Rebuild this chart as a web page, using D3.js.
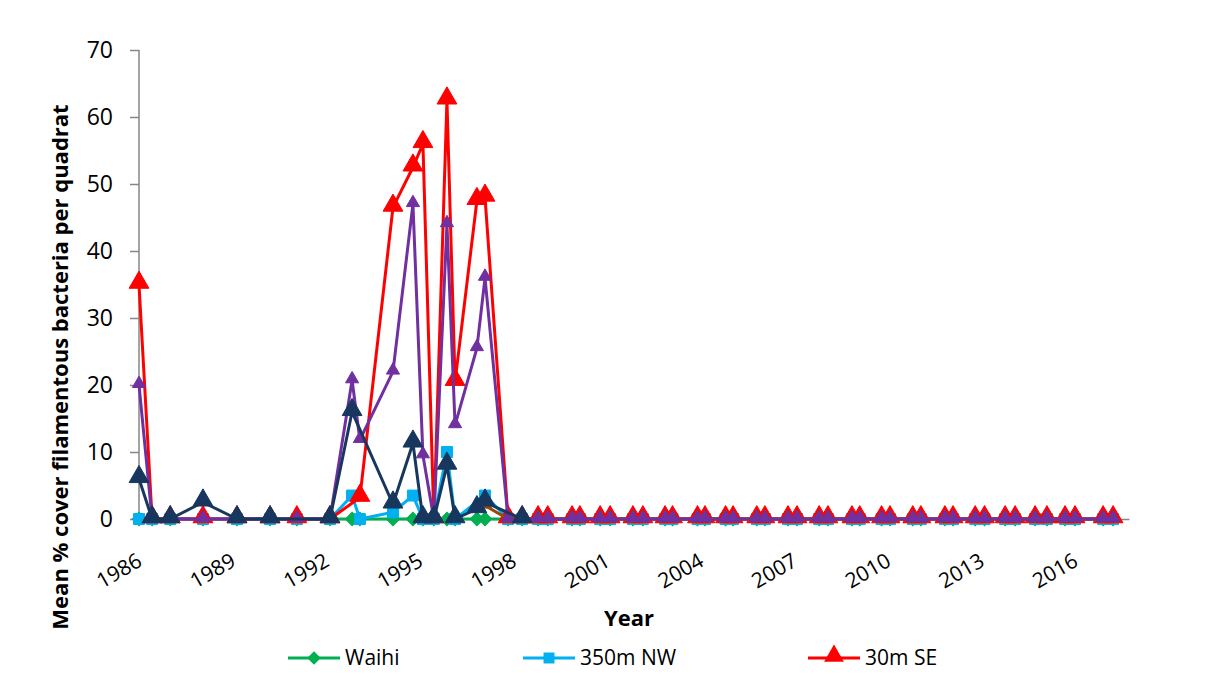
<!DOCTYPE html>
<html>
<head>
<meta charset="utf-8">
<script src="https://cdn.jsdelivr.net/npm/d3@7"></script>
<style>
    html, body { margin: 0; padding: 0; background: #ffffff; }
    svg { display: block; font-family: "Open Sans", "Noto Sans", sans-serif; }
</style>
</head>
<body>
<div id="chart"></div>
<script>
// Sampling dates as decimal years
var sampleDates = [
    1986.00, 1986.42, 1987.00, 1988.05, 1989.14, 1990.20, 1991.06, 1992.12,
    1992.83, 1993.08, 1994.14, 1994.78, 1995.10, 1995.45, 1995.87, 1996.13,
    1996.83, 1997.09, 1997.83, 1998.28,
    1998.79, 1999.10, 1999.88, 2000.13, 2000.78, 2001.10, 2001.83, 2002.15,
    2002.86, 2003.10, 2003.90, 2004.14, 2004.80, 2005.04, 2005.80, 2006.06,
    2006.80, 2007.09, 2007.80, 2008.08, 2008.85, 2009.10, 2009.80, 2010.07,
    2010.80, 2011.06, 2011.83, 2012.09, 2012.80, 2013.10, 2013.76, 2014.08,
    2014.72, 2015.10, 2015.68, 2016.00, 2016.90, 2017.22
];

var waihi = [
    0, 0, 0, 0, 0, 0, 0, 0,
    0, 0, 0, 0, 0, 0, 0, 0,
    0, 0, 0, 0,
    0, 0, 0, 0, 0, 0, 0, 0,
    0, 0, 0, 0, 0, 0, 0, 0,
    0, 0, 0, 0, 0, 0, 0, 0,
    0, 0, 0, 0, 0, 0, 0, 0,
    0, 0, 0, 0, 0, 0
];

var nw350 = [
    0, 0, 0, 0, 0, 0, 0, 0,
    3.5, 0, 1.0, 3.5, 0, 0, 10, 0,
    null, 3.5, 0, 0,
    0, 0, 0, 0, 0, 0, 0, 0,
    0, 0, 0, 0, 0, 0, 0, 0,
    0, 0, 0, 0, 0, 0, 0, 0,
    0, 0, 0, 0, 0, 0, 0, 0,
    0, 0, 0, 0, 0, 0
];

var se30 = [
    35, 0, 0, 0, 0, 0, 0, 0,
    null, 3.2, 46.5, 52.5, 56, 0, 62.5, 20.5,
    47.5, 48, 0, 0,
    0, 0, 0, 0, 0, 0, 0, 0,
    0, 0, 0, 0, 0, 0, 0, 0,
    0, 0, 0, 0, 0, 0, 0, 0,
    0, 0, 0, 0, 0, 0, 0, 0,
    0, 0, 0, 0, 0, 0
];

var purpleSite = [
    20, 0, 0, 0, 0, 0, 0, 0,
    20.7, 11.8, 22, 47, 9.5, 0, 44, 14,
    25.5, 36, 0, 0,
    0, 0, 0, 0, 0, 0, 0, 0,
    0, 0, 0, 0, 0, 0, 0, 0,
    0, 0, 0, 0, 0, 0, 0, 0,
    0, 0, 0, 0, 0, 0, 0, 0,
    0, 0, 0, 0, 0, 0
];

var brownSite = [
    null, null, null, null, null, null, null, null,
    null, null, null, null, null, null, null, null,
    1.5, 2, 0, 0,
    0, 0, 0, 0, 0, 0, 0, 0,
    0, 0, 0, 0, 0, 0, 0, 0,
    0, 0, 0, 0, 0, 0, 0, 0,
    0, 0, 0, 0, 0, 0, 0, 0,
    0, 0, 0, 0, 0, 0
];

var navySite = [
    6, 0, 0, 2.5, 0, 0, null, 0,
    16, null, 2.2, 11.3, 0, 0, 8, 0,
    1.5, 2.5, null, 0,
    null, null, null, null, null, null, null, null,
    null, null, null, null, null, null, null, null,
    null, null, null, null, null, null, null, null,
    null, null, null, null, null, null, null, null,
    null, null, null, null, null, null
];

var yTicks = [0, 10, 20, 30, 40, 50, 60, 70];
var xTickYears = [1986, 1989, 1992, 1995, 1998, 2001, 2004, 2007, 2010, 2013, 2016];
var legendNames = ["Waihi", "350m NW", "30m SE"];

(function(){
    "use strict";

    //==========================================================================================
    // Chart setup
    //==========================================================================================
    var width = 1206;
    var height = 683;
    var plot = { left: 139, right: 1129, top: 50, bottom: 519 };
    var axisColor = "#868686";
    var fontFamily = "'Open Sans', 'Noto Sans', sans-serif";

    var series = [
        { values: waihi,      color: "#00B050", shape: "diamond",  size: 90 },
        { values: nw350,      color: "#00B0F0", shape: "square",   size: 120 },
        { values: se30,       color: "#FF0000", shape: "triangle", size: 170 },
        { values: brownSite,  color: "#984807", shape: "triangle", size: 75 },
        { values: purpleSite, color: "#7030A0", shape: "triangle", size: 75 },
        { values: navySite,   color: "#17375E", shape: "triangle", size: 170 }
    ];

    var svg = d3.select("#chart")
        .append("svg")
        .attr("width", width)
        .attr("height", height);

    var x = d3.scaleLinear()
        .domain([1986.0, 2017.73])
        .range([plot.left, plot.right]);

    var y = d3.scaleLinear()
        .domain([0, 70])
        .range([plot.bottom, plot.top]);

    //------------------------------------------------------------------------------------------
    // Marker path for a series
    //------------------------------------------------------------------------------------------
    function markerPath(s) {
        var type = d3.symbolTriangle;
        if (s.shape === "square" || s.shape === "diamond") {
            type = d3.symbolSquare;
        }
        return d3.symbol().type(type).size(s.size)();
    }

    function markerTransform(s, px, py) {
        var t = "translate(" + px + "," + py + ")";
        if (s.shape === "diamond") {
            t += " rotate(45)";
        }
        if (s.shape === "triangle") {
            // centre the triangle box on the point rather than its centroid
            t += " translate(0," + (-Math.sqrt(s.size) * 0.15) + ")";
        }
        return t;
    }

    //------------------------------------------------------------------------------------------
    // Axes
    //------------------------------------------------------------------------------------------
    var yAxis = svg.append("g")
        .attr("transform", "translate(" + plot.left + ",0)")
        .call(d3.axisLeft(y).tickValues(yTicks).tickSize(9).tickPadding(17))
        .attr("font-family", fontFamily);

    yAxis.select(".domain")
        .attr("stroke", axisColor)
        .attr("stroke-width", 1.5)
        .attr("d", "M0," + plot.top + "V" + plot.bottom);
    yAxis.selectAll(".tick line")
        .attr("stroke", axisColor)
        .attr("stroke-width", 1.5);
    yAxis.selectAll(".tick text")
        .attr("fill", "#000")
        .style("font-size", "23px");

    var xAxis = svg.append("g")
        .attr("transform", "translate(0," + plot.bottom + ")")
        .call(d3.axisBottom(x).tickValues(xTickYears).tickSize(0).tickFormat(d3.format("d")))
        .attr("font-family", fontFamily);

    xAxis.select(".domain")
        .attr("stroke", axisColor)
        .attr("stroke-width", 1.5);
    xAxis.selectAll(".tick text")
        .attr("fill", "#000")
        .style("font-size", "21px")
        .attr("text-anchor", "end")
        .attr("y", 0)
        .attr("dy", 0)
        .attr("transform", "translate(4,46) rotate(-30)");

    //------------------------------------------------------------------------------------------
    // Series lines and markers
    //------------------------------------------------------------------------------------------
    var line = d3.line()
        .x(function(d) { return x(d.date); })
        .y(function(d) { return y(d.value); });

    series.forEach(function(s) {
        var points = [];
        s.values.forEach(function(v, i) {
            if (v !== null) {
                points.push({ date: sampleDates[i], value: v });
            }
        });

        var g = svg.append("g");

        g.append("path")
            .datum(points)
            .attr("d", line)
            .attr("fill", "none")
            .attr("stroke", s.color)
            .attr("stroke-width", 3)
            .attr("stroke-linejoin", "round");

        g.selectAll("path.marker")
            .data(points)
            .enter()
            .append("path")
            .attr("class", "marker")
            .attr("d", markerPath(s))
            .attr("fill", s.color)
            .attr("stroke", s.color)
            .attr("stroke-width", 1)
            .attr("transform", function(d) {
                return markerTransform(s, x(d.date), y(d.value));
            });
    });

    //------------------------------------------------------------------------------------------
    // Axis titles
    //------------------------------------------------------------------------------------------
    svg.append("text")
        .attr("transform", "translate(68,367) rotate(-90)")
        .attr("text-anchor", "middle")
        .style("font-size", "22px")
        .style("font-weight", "bold")
        .text("Mean % cover filamentous bacteria per quadrat");

    svg.append("text")
        .attr("x", 629)
        .attr("y", 626)
        .attr("text-anchor", "middle")
        .style("font-size", "22px")
        .style("font-weight", "bold")
        .text("Year");

    //------------------------------------------------------------------------------------------
    // Legend
    //------------------------------------------------------------------------------------------
    var legendX = [288, 523, 808];
    var legendY = 658;

    var legend = svg.selectAll(".legend")
        .data(legendNames)
        .enter()
        .append("g")
        .attr("class", "legend")
        .attr("transform", function(d, i) {
            return "translate(" + legendX[i] + "," + legendY + ")";
        });

    legend.append("line")
        .attr("x1", 0)
        .attr("x2", 52)
        .attr("stroke", function(d, i) { return series[i].color; })
        .attr("stroke-width", 3);

    legend.append("path")
        .attr("d", function(d, i) { return markerPath(series[i]); })
        .attr("fill", function(d, i) { return series[i].color; })
        .attr("transform", function(d, i) { return markerTransform(series[i], 26, 0); });

    legend.append("text")
        .attr("x", 57)
        .attr("dy", "0.35em")
        .style("font-size", "21px")
        .text(function(d) { return d; });

})();
</script>
</body>
</html>
